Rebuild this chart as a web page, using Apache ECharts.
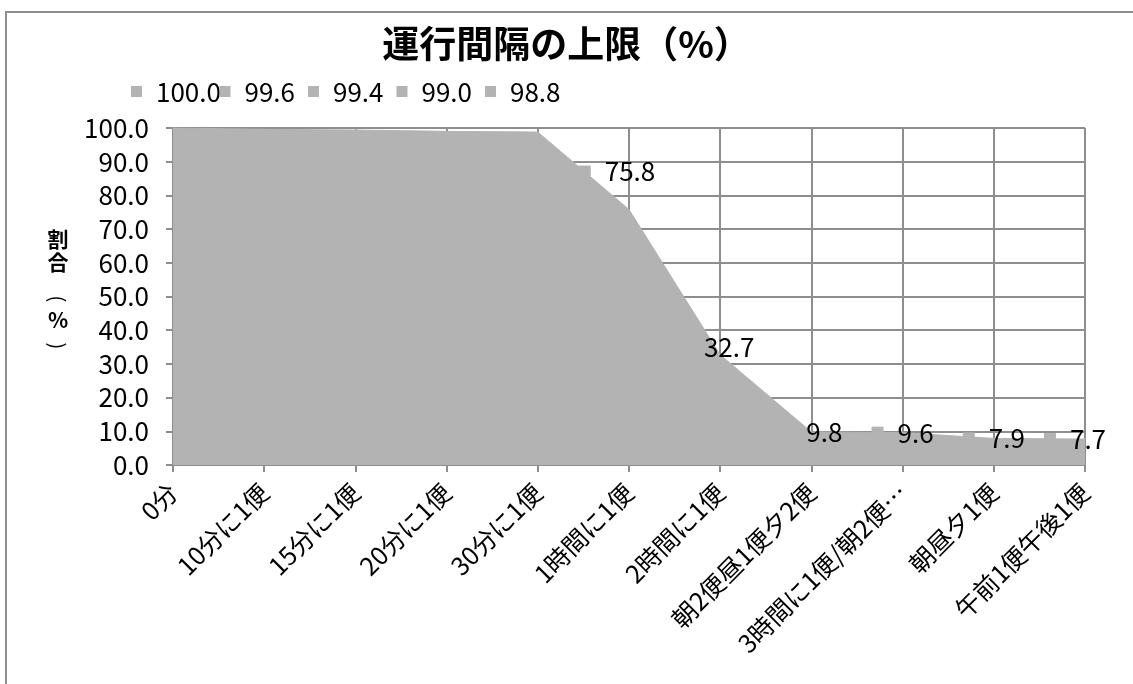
<!DOCTYPE html>
<html>
<head>
<meta charset="utf-8">
<script src="https://cdn.jsdelivr.net/npm/echarts@6/dist/echarts.min.js"></script>
<style>
html,body{margin:0;padding:0;background:#fff;}
#chart{width:1133px;height:684px;}
</style>
</head>
<body>
<div id="chart"></div>
<script>
// ---- data ----
const titleText = '運行間隔の上限（%）';
const yAxisTitle = ['割', '合', '(', '%', ')'];
const categories = ['0分', '10分に1便', '15分に1便', '20分に1便', '30分に1便', '1時間に1便', '2時間に1便', '朝2便昼1便夕2便', '3時間に1便/朝2便…', '朝昼夕1便', '午前1便午後1便'];
const values = [100.0, 99.6, 99.4, 99.0, 98.8, 75.8, 32.7, 9.8, 9.6, 7.9, 7.7];
const yMin = 0, yMax = 100, yStep = 10;
const topRowCount = 5; // labels of the first points shown in the top row

// ---- style ----
const GRAY = '#b3b3b3';
const LINE = '#8e8e8e';
const NUMFONT = "'Liberation Sans Narrow','Noto Sans CJK JP',sans-serif";
const JPFONT = "'Noto Sans CJK JP',sans-serif";
const labelOffsets = {5: [-12, -38], 6: [-4, -8], 10: [-10, 0]};
const yTitlePos = [239, 262, 299, 320, 346];

const chart = echarts.init(document.getElementById('chart'));

const fmt = v => v.toFixed(1);

const seriesData = values.map((v, i) => ({
  value: v,
  label: {show: i >= topRowCount, offset: labelOffsets[i] || [0, 0]}
}));

const graphics = [];
// outer border (top and left visible)
graphics.push({type: 'polyline', shape: {points: [[6, 900], [6, 12], [1400, 12]]},
  style: {fill: 'none', stroke: LINE, lineWidth: 2}, silent: true});
// top row of value labels
for (let i = 0; i < topRowCount; i++) {
  const x0 = 131 + i * 88.5;
  graphics.push({type: 'rect', shape: {x: x0, y: 86, width: 11, height: 11}, style: {fill: GRAY}, silent: true, z: 10});
  graphics.push({type: 'text', x: x0 + 25, y: 92, z: 10, silent: true,
    style: {text: fmt(values[i]), fill: '#000', font: '26px ' + NUMFONT, textVerticalAlign: 'middle', textAlign: 'left'}});
}
// y axis title (vertical writing)
yAxisTitle.forEach((ch, k) => {
  const isParen = ch === '(' || ch === ')';
  graphics.push({type: 'text', x: 58, y: yTitlePos[k], silent: true,
    rotation: isParen ? -Math.PI / 2 : 0,
    style: {text: ch, fill: '#000', font: (isParen ? '20px ' : 'bold 21px ') + JPFONT, textAlign: 'center', textVerticalAlign: 'middle'}});
});

chart.setOption({
  animation: false,
  backgroundColor: '#fff',
  title: {
    text: titleText, left: 'center', top: 20,
    textStyle: {fontFamily: JPFONT, fontWeight: 'bold', fontSize: 37, color: '#000'}
  },
  grid: {left: 173, right: 48, top: 128, bottom: 219},
  xAxis: {
    type: 'category', data: categories, boundaryGap: false,
    axisLine: {lineStyle: {color: LINE, width: 2}},
    axisTick: {show: true, length: 7, lineStyle: {color: LINE, width: 2}},
    splitLine: {show: true, lineStyle: {color: LINE, width: 2}},
    axisLabel: {interval: 0, rotate: 45, margin: 23, color: '#000', fontFamily: JPFONT, fontSize: 25}
  },
  yAxis: {
    type: 'value', min: yMin, max: yMax, interval: yStep,
    axisLine: {show: true, lineStyle: {color: LINE, width: 2}},
    axisTick: {show: true, length: 7, lineStyle: {color: LINE, width: 2}},
    splitLine: {show: true, lineStyle: {color: LINE, width: 2}},
    axisLabel: {margin: 24, color: '#000', fontFamily: NUMFONT, fontSize: 26, formatter: v => fmt(v)}
  },
  series: [{
    type: 'line',
    data: seriesData,
    symbol: 'rect', symbolSize: 1, showSymbol: true,
    itemStyle: {color: GRAY},
    lineStyle: {color: GRAY, width: 1},
    areaStyle: {color: GRAY, opacity: 1},
    emphasis: {disabled: true},
    label: {
      position: 'inside',
      formatter: p => '{sq| }{v|' + fmt(p.value) + '}',
      rich: {
        sq: {width: 12, height: 12, backgroundColor: GRAY},
        v: {fontFamily: NUMFONT, fontSize: 26, color: '#000', padding: [0, 0, 0, 14]}
      }
    }
  }],
  graphic: graphics
});
</script>
</body>
</html>
